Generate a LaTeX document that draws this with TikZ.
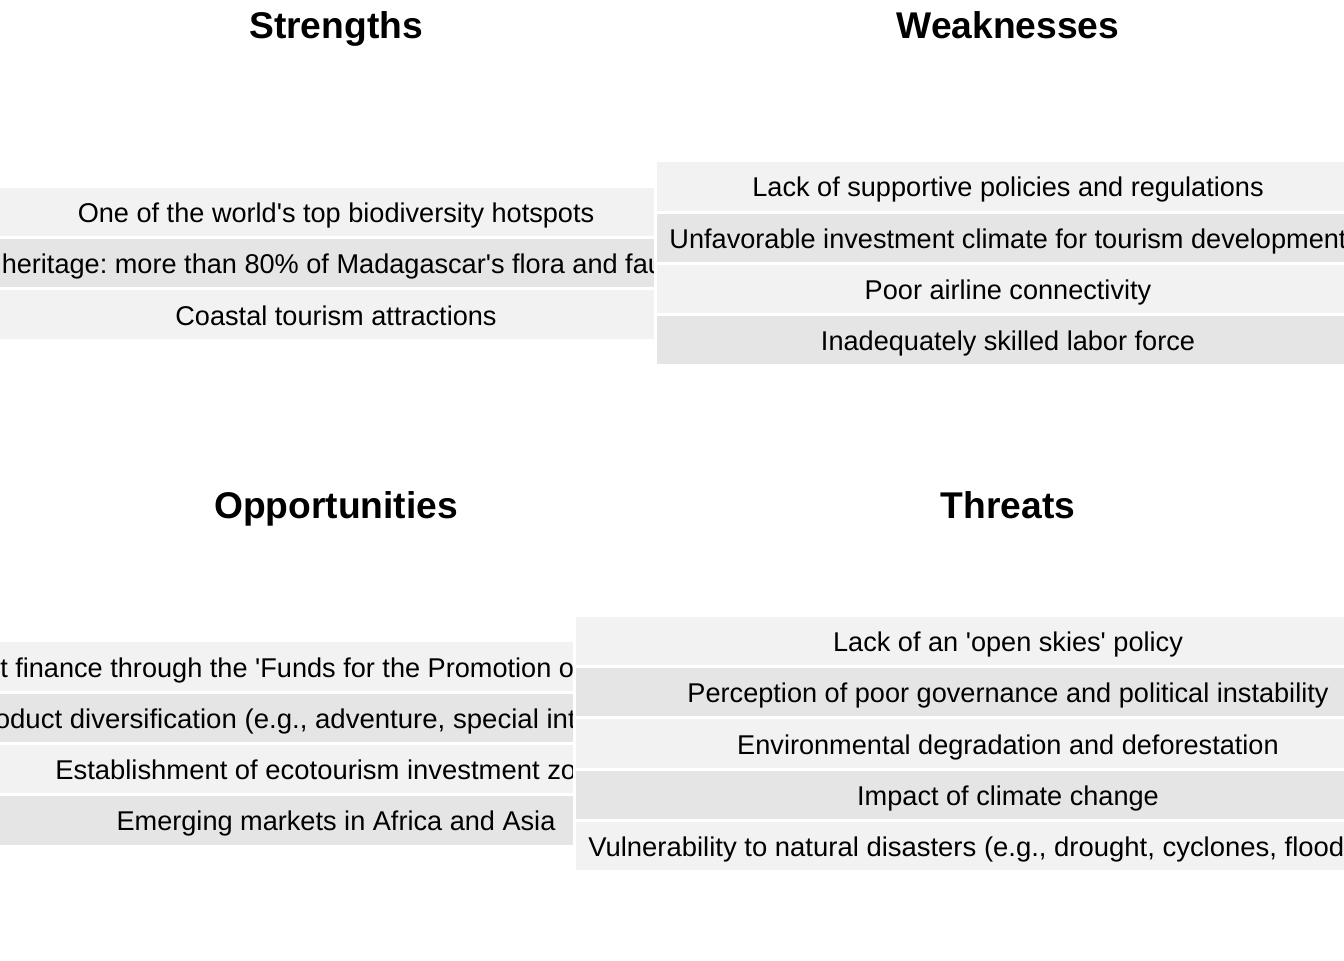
\documentclass[tikz,border=0pt]{standalone}
\usepackage{fontspec}
\usepackage{graphicx}
\setmainfont{Liberation Sans}
\definecolor{rowlight}{HTML}{F2F2F2}
\definecolor{rowdark}{HTML}{E5E5E5}
% one table cell: name, x, y, width (px), fill colour
\newcommand\swotcell[5]{\node[cell,fill=#5,minimum width={#4*0.75pt}] (#1) at (#2,#3) {};}
\newcommand\sq{\textquotesingle}
% set a text stretched horizontally to a given width in px
\newcommand\fitto[2]{\setbox0\hbox{#2}\pgfmathsetmacro\fitfactor{(#1*0.75)/\wd0}\scalebox{\fitfactor}[1]{\box0}}
\begin{document}
\frenchspacing
\begin{tikzpicture}[x=0.75pt,y=-0.75pt,
  cell/.style={rectangle,inner sep=0pt,draw=white,line width=2.25pt,minimum height={51.3*0.75pt}},
  txt/.style={anchor=base,inner sep=0pt,font=\fontsize{20.35}{24}\selectfont},
  txtw/.style={txt,anchor=base west},
  title/.style={anchor=base,inner sep=0pt,font=\bfseries\fontsize{27.9}{32}\selectfont}]
\useasboundingbox (0,0) rectangle (1344,960);
\clip (0,0) rectangle (1344,960);

% Strengths table
\swotcell{s1}{336}{212}{712}{rowlight}
\swotcell{s2}{336}{263.3}{712}{rowdark}
\swotcell{s3}{336}{314.6}{712}{rowlight}
\node[txt] (s1t) at (336,222.5) {One of the world\sq s top biodiversity hotspots};
\node[txtw] (s2t) at (1.5,273.8) {heritage: more than 80\% of Madagascar\sq s flora and fau};
\node[txt] (s3t) at (336,325.1) {Coastal tourism attractions};

% Opportunities table
\swotcell{o1}{336}{666.55}{712}{rowlight}
\swotcell{o2}{336}{717.85}{712}{rowdark}
\swotcell{o3}{336}{769.15}{712}{rowlight}
\swotcell{o4}{336}{820.45}{712}{rowdark}
\node[txtw] (o1t) at (0,677.05) {t finance through the \sq Funds for the Promotion o};
\node[txtw] (o2t) at (-5.5,728.35) {\fitto{581}{oduct diversification (e.g., adventure, special int}};
\node[txtw] (o3t) at (55,779.65) {\fitto{521}{Establishment of ecotourism investment zo}};
\node[txt] (o4t) at (336,830.95) {Emerging markets in Africa and Asia};

% Weaknesses table
\swotcell{w1}{1008}{186.35}{704.6}{rowlight}
\swotcell{w2}{1008}{237.65}{704.6}{rowdark}
\swotcell{w3}{1008}{288.95}{704.6}{rowlight}
\swotcell{w4}{1008}{340.25}{704.6}{rowdark}
\node[txt] (w1t) at (1008,196.85) {Lack of supportive policies and regulations};
\node[txt] (w2t) at (1008,248.15) {Unfavorable investment climate for tourism development};
\node[txt] (w3t) at (1008,299.45) {Poor airline connectivity};
\node[txt] (w4t) at (1008,350.75) {Inadequately skilled labor force};

% Threats table
\swotcell{t1}{1008}{640.9}{868}{rowlight}
\swotcell{t2}{1008}{692.2}{868}{rowdark}
\swotcell{t3}{1008}{743.5}{868}{rowlight}
\swotcell{t4}{1008}{794.8}{868}{rowdark}
\swotcell{t5}{1008}{846.1}{868}{rowlight}
\node[txt] (t1t) at (1008,651.4) {Lack of an \sq open skies\sq\ policy};
\node[txt] (t2t) at (1008,702.7) {Perception of poor governance and political instability};
\node[txt] (t3t) at (1008,754.0) {Environmental degradation and deforestation};
\node[txt] (t4t) at (1008,805.3) {Impact of climate change};
\node[txtw] (t5t) at (588,856.6) {\fitto{756}{Vulnerability to natural disasters (e.g., drought, cyclones, flood}};

% quadrant headings
\node[title] (hs) at (336,38) {Strengths};
\node[title] (hw) at (1008,38) {Weaknesses};
\node[title] (ho) at (336,518) {Opportunities};
\node[title] (ht) at (1008,518) {Threats};
\end{tikzpicture}
\end{document}
